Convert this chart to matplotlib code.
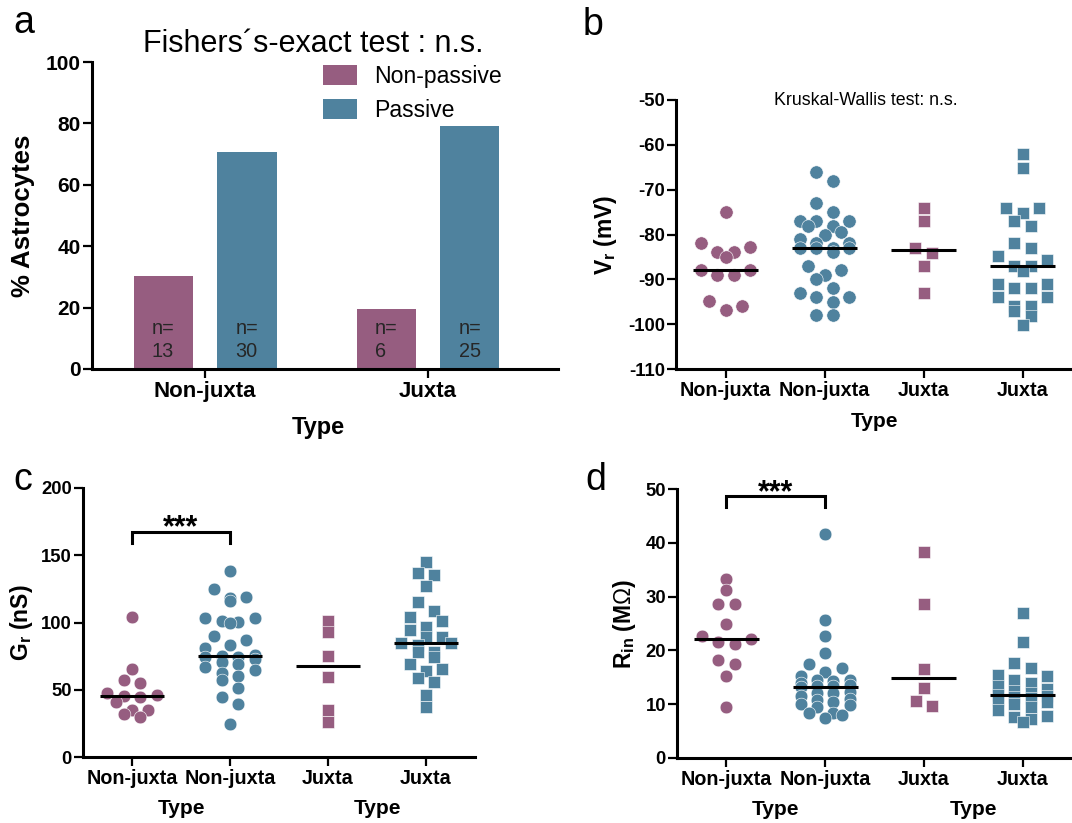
import numpy as np
import matplotlib
matplotlib.use('Agg')
import matplotlib.pyplot as plt
from matplotlib.patches import Rectangle
import matplotlib.transforms as mtransforms

plt.rcParams['font.family'] = ['Liberation Sans', 'DejaVu Sans']
plt.rcParams['mathtext.fontset'] = 'custom'
plt.rcParams['mathtext.rm'] = 'Liberation Sans'
plt.rcParams['mathtext.bf'] = 'Liberation Sans:bold'
plt.rcParams['mathtext.it'] = 'Liberation Sans:italic'
plt.rcParams['axes.unicode_minus'] = False

PURPLE = '#965D80'
BLUE = '#4F829E'

# ---------------- Panel a data ----------------
bar_types = ['Non-juxta', 'Juxta']
pct_nonpassive = [30.3, 19.5]
pct_passive = [70.7, 79.3]
n_nonpassive = [13, 6]
n_passive = [30, 25]
legend_labels = ['Non-passive', 'Passive']
title_a = 'Fishers\u00b4s-exact test : n.s.'

# ---------------- Panels b-d data ----------------
group_labels = ['Non-juxta', 'Non-juxta', 'Juxta', 'Juxta']
group_colors = [PURPLE, BLUE, PURPLE, BLUE]
group_markers = ['o', 'o', 's', 's']

vr_nj_np = [-75, -81.9, -82.7, -83.9, -83.9, -85, -88, -88, -89, -89, -94.9, -95.9, -96.9]
vr_nj_p = [-66, -68, -73, -75, -77, -77, -77, -78, -78, -79.5, -80, -81, -82, -82, -83,
           -83, -83, -83, -84, -87, -88, -89, -90, -92, -93, -94, -94, -95, -98, -98]
vr_j_np = [-74.1, -77, -83, -84.1, -87, -93]
vr_j_p = [-62, -65.1, -74, -74, -75.1, -77, -78, -82, -83, -84.9, -85.6, -87, -87, -88.2,
          -91, -91, -92, -92, -94, -94, -96, -96, -97.1, -98.1, -100.1]

gr_nj_np = [104.1, 65.2, 57.2, 55.2, 47.8, 46.1, 45.4, 44.9, 41.1, 34.9, 34.9, 32.0, 30.0]
gr_nj_p = [138.3, 125.1, 119.2, 118.5, 116.0, 103.6, 103.6, 101.1, 100.4, 99.4, 90.0, 87.0,
           83.3, 80.8, 75.8, 74.8, 74.6, 74.1, 72.6, 71.0, 69.1, 67.1, 65.0, 62.2, 60.2,
           57.2, 51.5, 44.9, 39.4, 24.3]
gr_j_np = [101.1, 92.9, 75.1, 59.7, 34.9, 25.8]
gr_j_p = [145.0, 137.0, 135.0, 127.1, 115.2, 108.3, 103.8, 101.1, 96.4, 94.4, 89.5, 89.0,
          85.0, 84.5, 83.3, 78.3, 78.1, 74.1, 68.9, 65.2, 63.9, 59.0, 56.0, 46.1, 37.0]

rin_nj_np = [33.3, 31.2, 28.6, 28.6, 25.0, 22.7, 22.1, 21.6, 21.1, 18.2, 17.5, 15.3, 9.5]
rin_nj_p = [41.6, 25.6, 22.7, 19.6, 17.5, 16.7, 16.0, 15.3, 14.5, 14.5, 14.4, 13.9, 13.6,
            13.4, 13.3, 13.2, 12.3, 12.0, 12.0, 11.5, 11.0, 10.8, 10.5, 10.0, 9.8, 9.5,
            8.4, 8.3, 8.0, 7.4]
rin_j_np = [38.3, 28.6, 16.5, 13.1, 10.65, 9.7]
rin_j_p = [26.9, 21.6, 17.7, 16.8, 15.4, 15.2, 14.5, 13.9, 13.3, 12.8, 12.4, 12.1, 11.7,
           11.5, 11.3, 11.1, 10.8, 10.5, 10.0, 9.5, 8.9, 7.8, 7.6, 7.2, 6.75]

W, H = 1072, 823
fig = plt.figure(figsize=(W / 100, H / 100), dpi=100)


def px_rect(left, top, right, bottom):
    return [left / W, 1 - bottom / H, (right - left) / W, (bottom - top) / H]


def fx(x):
    return x / W


def fy(y):
    return 1 - y / H


SPINE_LW = 2.2


def style_axes(ax, ytick_size, xtick_size):
    for s in ['top', 'right']:
        ax.spines[s].set_visible(False)
    for s in ['left', 'bottom']:
        ax.spines[s].set_linewidth(SPINE_LW)
    ax.tick_params(axis='both', direction='out', length=6.5, width=1.6)
    ax.tick_params(axis='y', labelsize=ytick_size, pad=1.5)
    ax.tick_params(axis='x', labelsize=xtick_size, pad=2)
    plt.setp(ax.get_yticklabels(), fontweight='bold')
    plt.setp(ax.get_xticklabels(), fontweight='bold')


def swarm_offsets(ax, values, row_px=10.0, step_px=8.2, max_row=4):
    vals = np.asarray(values, dtype=float)
    ypx = ax.transData.transform(np.column_stack([np.zeros(len(vals)), vals]))[:, 1]
    ppu = ax.transData.transform((1, 0))[0] - ax.transData.transform((0, 0))[0]
    order = np.argsort(-ypx, kind='stable')
    rows, cur = [], []
    for idx in order:
        if cur and (ypx[cur[0]] - ypx[idx] >= row_px or len(cur) >= max_row):
            rows.append(cur)
            cur = []
        cur.append(idx)
    if cur:
        rows.append(cur)
    offs = np.zeros(len(vals))
    for row in rows:
        n = len(row)
        slots = [2 * k - (n - 1) for k in range(n)]
        seq = []
        l, r, left = 0, n - 1, True
        while l <= r:
            if left:
                seq.append(slots[l]); l += 1
            else:
                seq.append(slots[r]); r -= 1
            left = not left
        for idx, s in zip(row, seq):
            offs[idx] = s * step_px / ppu
    return offs


# ================= Panel a =================
axa = fig.add_axes(px_rect(92, 62, 558, 369))
xa = np.arange(len(bar_types))
off, bw = 0.188, 0.265
axa.bar(xa - off, pct_nonpassive, width=bw, color=PURPLE, zorder=2)
axa.bar(xa + off, pct_passive, width=bw, color=BLUE, zorder=2)
axa.set_xlim(-0.507, 1.583)
axa.set_ylim(0, 100)
axa.set_yticks([0, 20, 40, 60, 80, 100])
axa.set_xticks(xa, bar_types)
style_axes(axa, 15, 16)
for i in range(len(bar_types)):
    axa.text(xa[i] - off, 9.4, f'n=\n{n_nonpassive[i]}', ha='center', va='center',
             multialignment='left', fontsize=14.3, color='#262626', linespacing=1.3)
    axa.text(xa[i] + off, 9.4, f'n=\n{n_passive[i]}', ha='center', va='center',
             multialignment='left', fontsize=14.3, color='#262626', linespacing=1.3)
axa.set_ylabel('% Astrocytes', fontsize=18.5, fontweight='bold', va='center')
axa.yaxis.set_label_coords(-0.148, 0.5)
axa.set_xlabel('Type', fontsize=17, fontweight='bold', va='center')
axa.xaxis.set_label_coords(0.485, -0.192)
fig.text(fx(313), fy(52.3), title_a, ha='center', va='baseline', fontsize=22)
# legend
for k, (lab, col) in enumerate(zip(legend_labels, [PURPLE, BLUE])):
    top = 65 + k * 34
    fig.add_artist(Rectangle((fx(323), fy(top + 20)), (357 - 323) / W, 20 / H,
                             transform=fig.transFigure, color=col, lw=0))
    fig.text(fx(374), fy(82.7 + k * 34), lab, ha='left', va='baseline', fontsize=16.6)


# ================= Dot panels =================
def dot_panel(rect, groups, ylim, yticks, ylabel, ylabel_x, circle_s, square_s):
    ax = fig.add_axes(rect)
    ax.set_xlim(-0.5, 3.5)
    ax.set_ylim(*ylim)
    ax.set_yticks(yticks)
    ax.set_xticks(range(len(group_labels)), group_labels)
    for i, vals in enumerate(groups):
        offs = swarm_offsets(ax, vals)
        s = circle_s if group_markers[i] == 'o' else square_s
        ax.scatter(i + offs, vals, s=s, marker=group_markers[i], color=group_colors[i],
                   edgecolors='white', linewidths=0.4, zorder=3, clip_on=False)
        med = np.median(vals)
        ax.hlines(med, i - 0.33, i + 0.33, color='black', lw=2.2, zorder=4)
    style_axes(ax, 13.3, 14.2)
    ax.set_ylabel(ylabel, fontsize=16.5, fontweight='bold', va='center')
    ax.yaxis.set_label_coords(ylabel_x, 0.5)
    return ax


axb = dot_panel(px_rect(676, 100, 1072, 369), [vr_nj_np, vr_nj_p, vr_j_np, vr_j_p],
                (-110, -50), list(range(-110, -49, 10)), r'V$_\mathbf{r}$ (mV)', -0.179,
                92, 80)
axb.set_xlabel('Type', fontsize=15, fontweight='bold', va='center')
axb.xaxis.set_label_coords(0.502, -0.197)
fig.text(fx(866), fy(105), 'Kruskal-Wallis test: n.s.', ha='center', va='baseline',
         fontsize=12.8)

axc = dot_panel(px_rect(83, 488, 475, 757), [gr_nj_np, gr_nj_p, gr_j_np, gr_j_p],
                (0, 200), [0, 50, 100, 150, 200], r'G$_\mathbf{r}$ (nS)', -0.156, 84, 78)
axd = dot_panel(px_rect(677, 489, 1072, 758), [rin_nj_np, rin_nj_p, rin_j_np, rin_j_p],
                (0, 50), [0, 10, 20, 30, 40, 50], r'R$_\mathbf{in}$ (M$\mathrm{\Omega}$)',
                -0.132, 84, 78)

for ax, yoff in [(axc, -0.19), (axd, -0.193)]:
    tr = mtransforms.blended_transform_factory(ax.transData, ax.transAxes)
    for xc in [0.5, 2.5]:
        ax.text(xc, yoff, 'Type', transform=tr, ha='center', va='center', fontsize=15,
                fontweight='bold')

# significance brackets
axc.plot([0, 0, 1, 1], [159.3, 167.5, 167.5, 159.3], color='black', lw=2.2,
         solid_joinstyle='miter', clip_on=False)
axc.text(0.5, 163.8, '***', ha='center', va='baseline', fontsize=22, fontweight='bold')
axd.plot([0, 0, 1, 1], [46.7, 48.7, 48.7, 46.7], color='black', lw=2.2,
         solid_joinstyle='miter', clip_on=False)
axd.text(0.5, 47.8, '***', ha='center', va='baseline', fontsize=22, fontweight='bold',
         clip_on=False)

# panel letters
fig.text(fx(13), fy(33), 'a', fontsize=27, ha='left', va='baseline')
fig.text(fx(583), fy(35), 'b', fontsize=27, ha='left', va='baseline')
fig.text(fx(13), fy(490), 'c', fontsize=27, ha='left', va='baseline')
fig.text(fx(585), fy(490), 'd', fontsize=27, ha='left', va='baseline')

fig.savefig('out.png', dpi=100)
